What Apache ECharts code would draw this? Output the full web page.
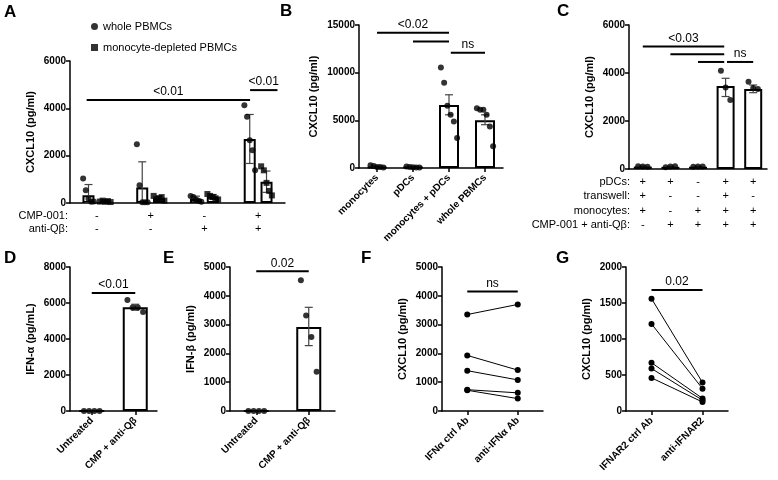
<!DOCTYPE html>
<html>
<head>
<meta charset="utf-8">
<script src="https://cdn.jsdelivr.net/npm/echarts@6/dist/echarts.min.js"></script>
<style>html,body{margin:0;padding:0;background:#fff}#main{width:778px;height:480px}</style>
</head>
<body>
<div id="main"></div>
<script>
// ---- data ----
// A: CXCL10, whole vs monocyte-depleted PBMCs, 4 conditions
var aRowCmp = ['-', '+', '-', '+'];
var aRowQb = ['-', '-', '+', '+'];
var aWholeBar = [330, 650, 170, 2700];
var aDeplBar = [70, 200, 260, 900];
var aWholeSd = [[0, 780], [0, 1740], [60, 290], [1670, 3740]];
var aDeplSd = [[20, 120], [110, 290], [160, 360], [450, 1350]];
var aWholePts = [[1030, 540, 180, 50, 60], [2480, 750, 30, 30, 30], [300, 250, 150, 100, 50], [4130, 3640, 2650, 2230, 1380]];
var aDeplPts = [[60, 100, 50, 80, 40], [300, 150, 200, 250, 100], [380, 300, 250, 200, 150], [1550, 1380, 850, 510, 320]];

// B
var bCats = ['monocytes', 'pDCs', 'monocytes + pDCs', 'whole PBMCs'];
var bBar = [120, 80, 6600, 5000];
var bSem = [[60, 180], [50, 110], [5580, 7680], [4540, 5580]];
var bPts = [[300, 200, 100, 100, 50], [150, 100, 80, 60, 50], [10540, 8930, 6530, 5580, 4890, 3140], [6280, 6110, 6110, 5580, 4360, 2270]];

// C
var cRows = ['pDCs:', 'transwell:', 'monocytes:', 'CMP-001 + anti-Qβ:'];
var cSigns = [['+', '+', '-', '+', '+'], ['+', '-', '-', '+', '-'], ['+', '-', '+', '+', '+'], ['-', '+', '+', '+', '+']];
var cBar = [100, 90, 95, 3460, 3330];
var cSem = [[80, 120], [70, 110], [80, 110], [3020, 3780], [3180, 3500]];
var cPts = [[110, 100, 90], [70, 100, 110], [90, 100, 100], [4090, 3400, 2880], [3640, 3370, 3330]];

// D, E
var deCats = ['Untreated', 'CMP + anti-Qβ'];
var dBar = [0, 5770];
var dSem = [[0, 0], [5600, 5930]];
var dPts = [[0, 0, 0, 0], [6160, 5750, 5750, 5500]];
var eBar = [0, 2920];
var eSem = [[0, 0], [2270, 3600]];
var ePts = [[0, 0, 0, 0], [4540, 3320, 2570, 1360]];

// F, G paired
var fCats = ['IFNα ctrl Ab', 'anti-IFNα Ab'];
var fPairs = [[3350, 3700], [1930, 1420], [1400, 1080], [740, 630], [720, 430]];
var gCats = ['IFNAR2 ctrl Ab', 'anti-IFNAR2'];
var gPairs = [[1560, 395], [1210, 310], [670, 175], [590, 150], [460, 125]];

// ---- helpers ----
var FONT = 'Liberation Sans';
var grids = [
  {left: 70, top: 61, width: 215, height: 142},
  {left: 359, top: 25, width: 144, height: 143},
  {left: 629, top: 25, width: 138, height: 144},
  {left: 70, top: 267, width: 87, height: 144},
  {left: 230, top: 267, width: 105, height: 144},
  {left: 442, top: 267, width: 101, height: 144},
  {left: 626, top: 267, width: 102, height: 144}
];
var yDefs = [[6000, 2000, 'CXCL10 (pg/ml)'], [15000, 5000, 'CXCL10 (pg/ml)'], [6000, 2000, 'CXCL10 (pg/ml)'],
  [8000, 2000, 'IFN-α (pg/mL)'], [5000, 1000, 'IFN-β (pg/ml)'], [5000, 1000, 'CXCL10 (pg/ml)'], [2000, 500, 'CXCL10 (pg/ml)']];
var nCats = [4, 4, 5, 2, 2, 2, 2];
var catLabels = [
  aRowCmp.map(function (s, i) { return s + '\n' + aRowQb[i]; }),
  bCats,
  cSigns[0].map(function (s, i) { return [cSigns[0][i], cSigns[1][i], cSigns[2][i], cSigns[3][i]].join('\n'); }),
  deCats, deCats, fCats, gCats
];

var xAxes = [], yAxes = [], series = [];
grids.forEach(function (g, i) {
  var rotated = i !== 0 && i !== 2;
  // visible category axis (index 2i), hidden value axis (index 2i+1)
  xAxes.push({
    type: 'category', gridIndex: i, data: catLabels[i],
    axisLine: {onZero: false, lineStyle: {color: '#000', width: 1.5}},
    axisTick: {show: rotated, alignWithLabel: true, length: 4, lineStyle: {color: '#000', width: 1.5}},
    axisLabel: rotated ? {rotate: 45, color: '#000', fontSize: 10, fontWeight: 'bold', fontFamily: FONT, margin: 8, interval: 0}
                       : {color: '#000', fontSize: 11, fontFamily: FONT, lineHeight: i === 2 ? 14.3 : 13, margin: 6, interval: 0}
  });
  xAxes.push({type: 'value', gridIndex: i, min: -0.5, max: nCats[i] - 0.5, show: false});
  yAxes.push({
    type: 'value', gridIndex: i, min: 0, max: yDefs[i][0], interval: yDefs[i][1],
    name: yDefs[i][2], nameLocation: 'middle', nameGap: i === 1 ? 40 : 34,
    nameTextStyle: {color: '#000', fontSize: 11, fontWeight: 'bold', fontFamily: FONT},
    splitLine: {show: false},
    axisLine: {show: true, onZero: false, lineStyle: {color: '#000', width: 1.5}},
    axisTick: {show: true, length: 4, lineStyle: {color: '#000', width: 1.5}},
    axisLabel: {color: '#000', fontSize: 10, fontWeight: 'bold', fontFamily: FONT, margin: 4,
      formatter: function (v) { return String(v); }}
  });
});

function barSeries(gi, data, width, extra) {
  var s = {type: 'bar', xAxisIndex: 2 * gi, yAxisIndex: gi, data: data, barWidth: width, z: 1,
    itemStyle: {color: '#fff', borderColor: '#000', borderWidth: 2}, silent: true};
  for (var k in extra) s[k] = extra[k];
  return s;
}
function ptSeries(gi, groups, offset, step, symbol, name) {
  var d = [];
  groups.forEach(function (vals, c) {
    vals.forEach(function (v, j) { d.push([c + offset + (j - (vals.length - 1) / 2) * step, v]); });
  });
  return {type: 'scatter', name: name, xAxisIndex: 2 * gi + 1, yAxisIndex: gi, data: d,
    symbol: symbol || 'circle', symbolSize: 6, itemStyle: {color: '#000'}, z: 5, silent: true};
}
function errSeries(gi, ranges, offset) {
  var d = ranges.map(function (r, c) { return [c + offset, r[0], r[1]]; });
  return {type: 'custom', xAxisIndex: 2 * gi + 1, yAxisIndex: gi, data: d, z: 4, silent: true,
    renderItem: function (p, api) {
      var lo = api.coord([api.value(0), api.value(1)]), hi = api.coord([api.value(0), api.value(2)]);
      var st = {stroke: '#444', lineWidth: 1.2};
      return {type: 'group', children: [
        {type: 'line', shape: {x1: lo[0], y1: lo[1], x2: hi[0], y2: hi[1]}, style: st},
        {type: 'line', shape: {x1: lo[0] - 4, y1: lo[1], x2: lo[0] + 4, y2: lo[1]}, style: st},
        {type: 'line', shape: {x1: hi[0] - 4, y1: hi[1], x2: hi[0] + 4, y2: hi[1]}, style: st}
      ]};
    }};
}
function sigSeries(gi, lines) {
  return {type: 'custom', xAxisIndex: 2 * gi + 1, yAxisIndex: gi, data: lines.map(function (l) { return [l[0], l[1], l[2]]; }),
    z: 6, silent: true, clip: false,
    renderItem: function (p, api) {
      var a = api.coord([api.value(0), api.value(2)]), b = api.coord([api.value(1), api.value(2)]);
      var label = lines[p.dataIndex][3];
      return {type: 'group', children: [
        {type: 'line', shape: {x1: a[0], y1: a[1], x2: b[0], y2: b[1]}, style: {stroke: '#000', lineWidth: 2}},
        {type: 'text', style: {text: label, x: (a[0] + b[0]) / 2, y: a[1] - 2, align: 'center', verticalAlign: 'bottom',
          font: '12px "' + FONT + '"', fill: '#000'}}
      ]};
    }};
}

// A
series.push(barSeries(0, aWholeBar, 12, {barGap: '40%'}));
series.push(barSeries(0, aDeplBar, 12, {barGap: '40%'}));
series.push(errSeries(0, aWholeSd, -0.156));
series.push(errSeries(0, aDeplSd, 0.156));
series.push(ptSeries(0, aWholePts, -0.156, 0.05, 'circle', 'whole PBMCs'));
series.push(ptSeries(0, aDeplPts, 0.156, 0.05, 'rect', 'monocyte-depleted PBMCs'));
series.push(sigSeries(0, [[-0.19, 2.85, 4350, '<0.01'], [2.85, 3.36, 4770, '<0.01']]));
// B
series.push(barSeries(1, bBar, 20));
series.push(errSeries(1, bSem, 0));
series.push(ptSeries(1, bPts, 0, 0.09));
series.push(sigSeries(1, [[0, 2, 14200, '<0.02'], [1, 2, 13260, ''], [2.05, 3, 12100, 'ns']]));
// C
series.push(barSeries(2, cBar, 18));
series.push(errSeries(2, cSem, 0));
series.push(ptSeries(2, cPts, 0, 0.17));
series.push(sigSeries(2, [[0, 2.95, 5100, '<0.03'], [1, 2.95, 4780, ''], [2, 2.95, 4460, ''], [3.05, 4, 4460, 'ns']]));
// D
series.push(barSeries(3, dBar, 25));
series.push(errSeries(3, dSem, 0));
series.push(ptSeries(3, dPts, 0, 0.12));
series.push(sigSeries(3, [[0, 1, 6560, '<0.01']]));
// E
series.push(barSeries(4, eBar, 25));
series.push(errSeries(4, eSem, 0));
series.push(ptSeries(4, ePts, 0, 0.1));
series.push(sigSeries(4, [[0, 1, 4850, '0.02']]));
// F, G paired lines
[[5, fPairs, [0, 1, 4150, 'ns']], [6, gPairs, [0, 1, 1680, '0.02']]].forEach(function (cfg) {
  cfg[1].forEach(function (pr) {
    series.push({type: 'line', xAxisIndex: 2 * cfg[0], yAxisIndex: cfg[0], data: pr, symbol: 'circle', symbolSize: 6,
      showSymbol: true, lineStyle: {color: '#000', width: 1}, itemStyle: {color: '#000'}, silent: true, animation: false});
  });
  series.push(sigSeries(cfg[0], [cfg[2]]));
});

var letters = [['A', 4, 4], ['B', 280, 3], ['C', 557, 3], ['D', 4, 250], ['E', 163, 250], ['F', 361, 250], ['G', 556, 250]];
var graphics = letters.map(function (l) {
  return {type: 'text', left: l[1], top: l[2], style: {text: l[0], font: 'bold 17px "' + FONT + '"', fill: '#000'}};
});
[['CMP-001:', 216], ['anti-Qβ:', 229]].forEach(function (r) {
  graphics.push({type: 'text', x: 68, y: r[1], style: {text: r[0], align: 'right', verticalAlign: 'middle', font: '11px "' + FONT + '"', fill: '#000'}});
});
cRows.forEach(function (r, i) {
  graphics.push({type: 'text', x: 630, y: 182 + i * 14.3, style: {text: r, align: 'right', verticalAlign: 'middle', font: '11px "' + FONT + '"', fill: '#000'}});
});

var myChart = echarts.init(document.getElementById('main'));
myChart.setOption({
  animation: false,
  backgroundColor: '#fff',
  textStyle: {fontFamily: FONT},
  grid: grids,
  xAxis: xAxes,
  yAxis: yAxes,
  legend: {
    data: [{name: 'whole PBMCs', icon: 'circle'}, {name: 'monocyte-depleted PBMCs', icon: 'rect'}],
    orient: 'vertical', left: 86, top: 16, itemWidth: 7, itemHeight: 7, itemGap: 10,
    textStyle: {color: '#000', fontSize: 11, fontFamily: FONT}
  },
  graphic: graphics,
  series: series
});
</script>
</body>
</html>
